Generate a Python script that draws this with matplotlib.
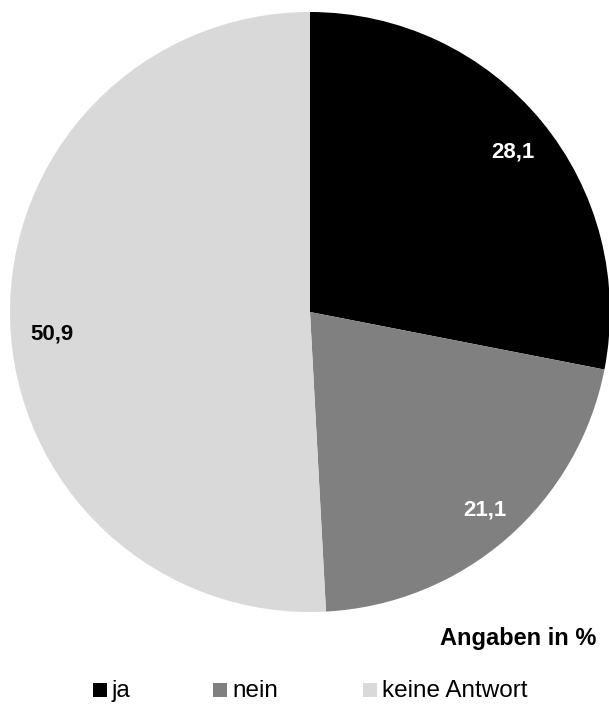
import matplotlib
matplotlib.use("Agg")
import matplotlib.pyplot as plt
from matplotlib.patches import Rectangle

categories = ["ja", "nein", "keine Antwort"]
values = [28.1, 21.1, 50.9]
value_labels = ["28,1", "21,1", "50,9"]
colors = ["#000000", "#808080", "#d9d9d9"]
label_colors = ["white", "white", "black"]
note = "Angaben in %"

W, H = 609, 704
fig = plt.figure(figsize=(W / 100, H / 100), dpi=100)
plt.rcParams['font.family'] = ['Liberation Sans', 'DejaVu Sans']

# pie area: x 10..610, y 12..612 (pixels from top)
ax = fig.add_axes([10 / W, (H - 612) / H, 600 / W, 600 / H])
wedges, _ = ax.pie(values, colors=colors, startangle=90, counterclock=False,
                   radius=1.0, wedgeprops=dict(linewidth=0))
ax.set_xlim(-1, 1)
ax.set_ylim(-1, 1)
ax.set_aspect("equal")
ax.axis("off")

# label positions in pixels (reference)
label_px = [(513, 152), (485, 510), (52, 334)]
for (x, y), txt, c in zip(label_px, value_labels, label_colors):
    fig.text(x / W, 1 - y / H, txt, ha="center", va="center",
             fontsize=16, fontweight="bold", color=c)

fig.text(596 / W, 1 - 639 / H, note, ha="right", va="center",
         fontsize=17, fontweight="bold", color="black")

# legend
sq_x = [93, 213, 363]
for x0, cat, col in zip(sq_x, categories, colors):
    fig.patches.append(Rectangle((x0 / W, 1 - 697 / H), 14 / W, 14 / H,
                                 transform=fig.transFigure, facecolor=col,
                                 edgecolor="none"))
    fig.text((x0 + 19) / W, 1 - 691 / H, cat, ha="left", va="center",
             fontsize=17.5, color="black")

fig.savefig("out.png", dpi=100)
